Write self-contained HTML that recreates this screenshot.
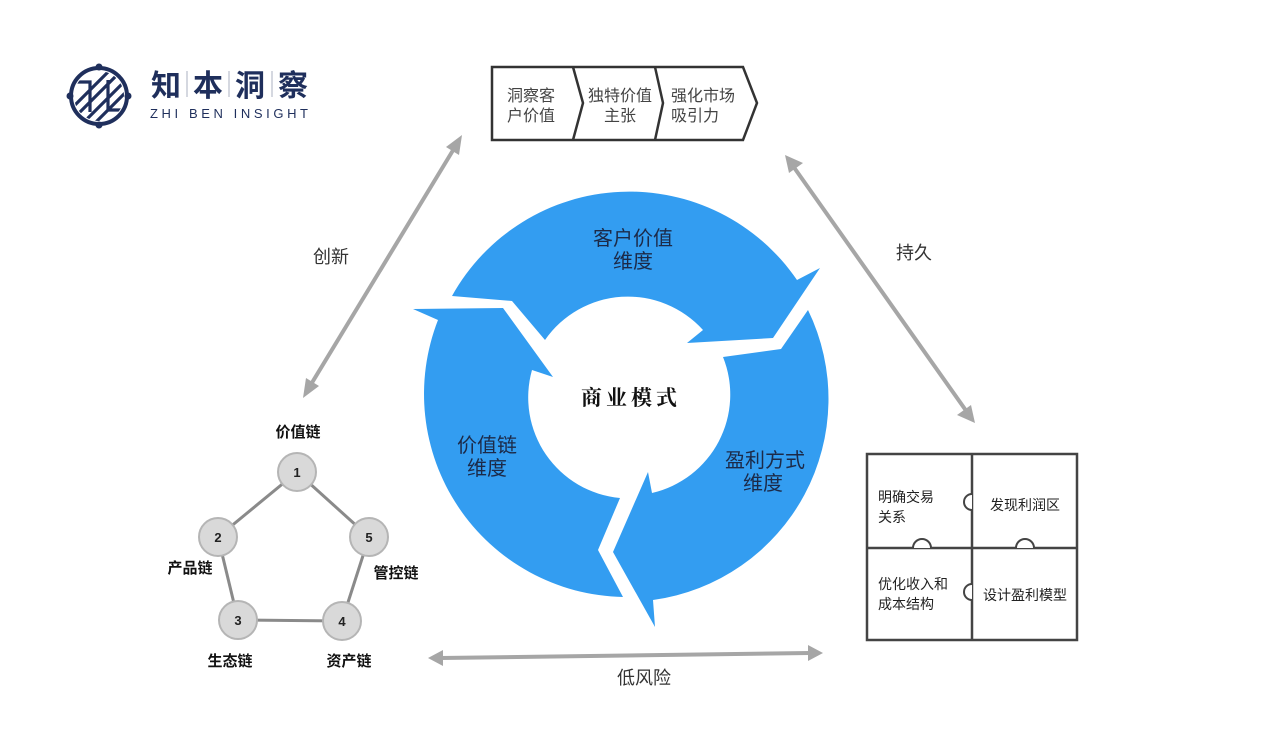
<!DOCTYPE html>
<html><head><meta charset="utf-8">
<style>
html,body{margin:0;padding:0;background:#fff;}
svg{display:block;}
text{font-family:"Liberation Sans","Noto Sans CJK SC",sans-serif;}
</style></head>
<body>
<svg width="1267" height="752" viewBox="0 0 1267 752" xmlns="http://www.w3.org/2000/svg">
<rect width="1267" height="752" fill="#fff"/>

<!-- Logo -->
<defs><clipPath id="lc"><circle cx="99" cy="96" r="25"/></clipPath></defs>
<circle cx="99" cy="96" r="28" fill="none" stroke="#1f2f5c" stroke-width="4"/>
<g clip-path="url(#lc)" stroke="#1f2f5c" stroke-width="3.2" fill="none">
  <line x1="70" y1="110" x2="110" y2="70"/>
  <line x1="76" y1="116" x2="120" y2="72"/>
  <line x1="84" y1="122" x2="126" y2="80"/>
  <line x1="92" y1="126" x2="130" y2="88"/>
  <polyline points="74,82 90,82 90,112"/>
  <polyline points="124,110 108,110 108,80"/>
</g>
<g fill="#1f2f5c">
<circle cx="99" cy="67" r="3.5"/><circle cx="99" cy="125" r="3.5"/>
<circle cx="70" cy="96" r="3.5"/><circle cx="128" cy="96" r="3.5"/>
</g>
<g font-weight="bold" font-size="30" fill="#1f2f5c" text-anchor="middle">
<text x="166" y="96">知</text>
<text x="208" y="96">本</text>
<text x="250" y="96">洞</text>
<text x="293" y="96">察</text>
</g>
<g stroke="#b9bfcc" stroke-width="1.2">
<line x1="187" y1="71" x2="187" y2="97"/>
<line x1="229" y1="71" x2="229" y2="97"/>
<line x1="272" y1="71" x2="272" y2="97"/>
</g>
<text x="150" y="118" font-size="13" fill="#1f2f5c" textLength="158" lengthAdjust="spacing">ZHI BEN INSIGHT</text>

<!-- Top chevron box -->
<g fill="none" stroke="#333" stroke-width="2.5" stroke-linejoin="miter">
<path d="M492,67 L743,67 L757,103 L743,140 L492,140 Z"/>
<path d="M573,67 L583,103 L573,140"/>
<path d="M655,67 L663,103 L655,140"/>
</g>
<g font-size="16" fill="#444">
<text x="507" y="101">洞察客</text>
<text x="507" y="121">户价值</text>
<text x="620" y="101" text-anchor="middle">独特价值</text>
<text x="620" y="121" text-anchor="middle">主张</text>
<text x="671" y="101">强化市场</text>
<text x="671" y="121">吸引力</text>
</g>

<!-- Double arrows -->
<g stroke="#a6a6a6" stroke-width="4" fill="#a6a6a6">
<line x1="455" y1="147" x2="310" y2="386"/>
<line x1="793" y1="166" x2="967" y2="412"/>
<line x1="441" y1="658" x2="810" y2="653"/>
</g>
<g fill="#a6a6a6">
<polygon points="462,135 459,155 446,147"/>
<polygon points="303,398 306,378 319,386"/>
<polygon points="785,155 803,163 789,173"/>
<polygon points="975,423 957,415 971,405"/>
<polygon points="428,658 443,650 443,666"/>
<polygon points="823,653 808,645 808,661"/>
</g>
<g font-size="18" fill="#333" text-anchor="middle">
<text x="331" y="263">创新</text>
<text x="914" y="259">持久</text>
<text x="644" y="684">低风险</text>
</g>

<!-- Ring -->
<g fill="#339df1">
<path d="M452,296 A203,203 0 0 1 797,280 L820,268 L773,338 L687,343 L703,330 A101,101 0 0 0 545,340 L512,301 Z"/>
<path d="M808,310 A203,203 0 0 1 653,600 L655,627 L613,552 L648,472 L652,493 A101,101 0 0 0 723,357 L781,349 Z"/>
<path d="M623,597 A203,203 0 0 1 438,320 L413,309 L503,308 L553,377 L532,370 A101,101 0 0 0 620,498 L598,550 Z"/>
</g>
<g font-size="20" fill="#1c2a48" text-anchor="middle">
<text x="633" y="245">客户价值</text>
<text x="633" y="268">维度</text>
<text x="487" y="452">价值链</text>
<text x="487" y="475">维度</text>
<text x="765" y="467">盈利方式</text>
<text x="763" y="490">维度</text>
</g>
<text x="631" y="405" style="font-family:'Liberation Serif','Noto Serif CJK SC',serif;font-weight:bold;font-size:21px;letter-spacing:4px" fill="#111" text-anchor="middle">商业模式</text>

<!-- Pentagon -->
<g stroke="#8a8a8a" stroke-width="3">
<line x1="297" y1="472" x2="218" y2="537"/>
<line x1="297" y1="472" x2="369" y2="537"/>
<line x1="218" y1="537" x2="238" y2="620"/>
<line x1="369" y1="537" x2="342" y2="621"/>
<line x1="238" y1="620" x2="342" y2="621"/>
</g>
<g fill="#d9d9d9" stroke="#b5b5b5" stroke-width="2">
<circle cx="297" cy="472" r="19"/>
<circle cx="218" cy="537" r="19"/>
<circle cx="369" cy="537" r="19"/>
<circle cx="238" cy="620" r="19"/>
<circle cx="342" cy="621" r="19"/>
</g>
<g font-size="13" font-weight="bold" fill="#222" text-anchor="middle">
<text x="297" y="477">1</text>
<text x="218" y="542">2</text>
<text x="369" y="542">5</text>
<text x="238" y="625">3</text>
<text x="342" y="626">4</text>
</g>
<g font-size="15" font-weight="bold" fill="#111" text-anchor="middle">
<text x="298" y="437">价值链</text>
<text x="190" y="573">产品链</text>
<text x="396" y="578">管控链</text>
<text x="230" y="666">生态链</text>
<text x="349" y="666">资产链</text>
</g>

<!-- Puzzle box -->
<g fill="none" stroke="#444" stroke-width="2.5">
<rect x="867" y="454" width="210" height="186"/>
<line x1="972" y1="454" x2="972" y2="640"/>
<line x1="867" y1="548" x2="1077" y2="548"/>
</g>
<g fill="#fff" stroke="#444" stroke-width="2">
<path d="M972,494 A8,8 0 0 0 972,510"/>
<path d="M972,584 A8,8 0 0 0 972,600"/>
<path d="M913,548 A9,9 0 0 1 931,548"/>
<path d="M1016,548 A9,9 0 0 1 1034,548"/>
</g>
<g font-size="14" fill="#222">
<text x="878" y="502">明确交易</text>
<text x="878" y="522">关系</text>
<text x="1025" y="510" text-anchor="middle">发现利润区</text>
<text x="878" y="589">优化收入和</text>
<text x="878" y="609">成本结构</text>
<text x="1025" y="600" text-anchor="middle">设计盈利模型</text>
</g>
</svg>
</body></html>
